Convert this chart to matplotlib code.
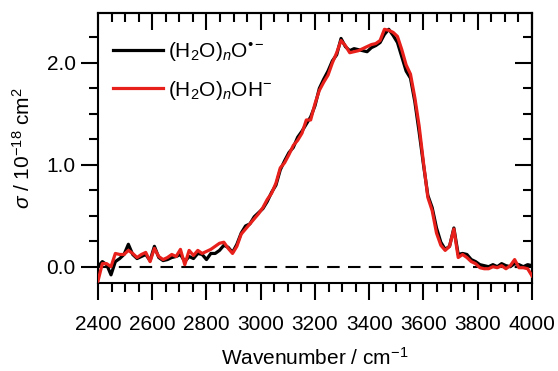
import numpy as np
import matplotlib
matplotlib.use("Agg")
import matplotlib.pyplot as plt
from matplotlib.ticker import MultipleLocator

plt.rcParams['font.family'] = ['Liberation Sans', 'DejaVu Sans']
plt.rcParams['mathtext.fontset'] = 'custom'
plt.rcParams['mathtext.rm'] = 'Liberation Sans'
plt.rcParams['mathtext.it'] = 'Liberation Sans:italic'
plt.rcParams['mathtext.bf'] = 'Liberation Sans:bold'

# wavenumber grid (cm-1), 16 cm-1 sampling
wavenumber = np.arange(2400, 4001, 16)

# (H2O)nO*- cross section, 10^-18 cm^2
sigma_o = [0.00, 0.05, 0.02, -0.08, 0.05, 0.08, 0.12, 0.22, 0.12, 0.08,
           0.10, 0.12, 0.06, 0.20, 0.09, 0.06, 0.07, 0.09, 0.10, 0.12,
           0.05, 0.10, 0.08, 0.13, 0.12, 0.07, 0.13, 0.13, 0.16, 0.21,
           0.19, 0.14, 0.22, 0.33, 0.40, 0.42, 0.49, 0.53, 0.57, 0.64,
           0.73, 0.80, 0.95, 1.04, 1.12, 1.17, 1.27, 1.33, 1.40, 1.47,
           1.58, 1.75, 1.84, 1.92, 2.02, 2.08, 2.24, 2.16, 2.12, 2.14,
           2.13, 2.12, 2.11, 2.15, 2.17, 2.20, 2.28, 2.33, 2.27, 2.20,
           2.06, 1.92, 1.85, 1.62, 1.32, 1.00, 0.70, 0.58, 0.38, 0.24,
           0.17, 0.20, 0.38, 0.12, 0.13, 0.12, 0.07, 0.05, 0.02, 0.01,
           0.00, 0.02, 0.00, 0.03, 0.01, 0.00, 0.03, 0.02, 0.00, 0.02,
           0.01]

# (H2O)nOH- cross section, 10^-18 cm^2
sigma_oh = [-0.14, 0.03, 0.03, 0.00, 0.13, 0.12, 0.12, 0.16, 0.13, 0.09,
            0.12, 0.14, 0.05, 0.18, 0.10, 0.07, 0.09, 0.12, 0.10, 0.17,
            0.02, 0.16, 0.11, 0.16, 0.13, 0.15, 0.17, 0.20, 0.23, 0.24,
            0.18, 0.13, 0.20, 0.32, 0.37, 0.42, 0.47, 0.52, 0.58, 0.66,
            0.72, 0.82, 0.97, 1.02, 1.10, 1.19, 1.24, 1.31, 1.44, 1.44,
            1.60, 1.73, 1.81, 1.88, 2.00, 2.10, 2.22, 2.17, 2.10, 2.11,
            2.12, 2.14, 2.16, 2.18, 2.19, 2.22, 2.33, 2.32, 2.30, 2.26,
            2.13, 1.98, 1.89, 1.66, 1.38, 1.02, 0.68, 0.55, 0.33, 0.21,
            0.16, 0.20, 0.37, 0.09, 0.12, 0.09, 0.05, 0.03, -0.01, -0.02,
            -0.02, 0.00, -0.01, 0.01, -0.02, 0.01, 0.07, -0.01, -0.01, -0.02,
            -0.09]

labels = ['(H$_2$O)$_n$O$^{\u2022\u2212}$', '(H$_2$O)$_n$OH$^{\u2212}$']
colors = ['black', '#e8201c']
xticks = [2400, 2600, 2800, 3000, 3200, 3400, 3600, 3800, 4000]
yticks = [0.0, 1.0, 2.0]

fig = plt.figure(figsize=(5.58, 3.71), dpi=100)
ax = fig.add_axes([0.1756, 0.2372, 0.9534 - 0.1756, 0.965 - 0.2372])

ax.axhline(0, color='black', lw=1.5, ls=(0, (6, 4)), zorder=1)
ax.plot(wavenumber, sigma_o, color=colors[0], lw=2.3, label=labels[0], zorder=2)
ax.plot(wavenumber, sigma_oh, color=colors[1], lw=2.3, label=labels[1], zorder=3)

ax.set_xlim(2400, 4000)
ax.set_ylim(-0.16, 2.49)
ax.set_xticks(xticks)
ax.set_yticks(yticks)
ax.set_yticklabels(['%.1f' % v for v in yticks])
ax.xaxis.set_minor_locator(MultipleLocator(50))
ax.yaxis.set_minor_locator(MultipleLocator(0.25))
ax.tick_params(which='both', direction='out', width=1.5, labelsize=15,
               top=False, right=False)
ax.tick_params(which='major', length=12)
ax.tick_params(which='minor', length=6.5)
ax.tick_params(axis='x', pad=11)
ax.tick_params(axis='y', pad=4)
for s in ax.spines.values():
    s.set_linewidth(1.5)

# top and right ticks point inward
top = ax.secondary_xaxis('top')
top.set_xticks(xticks)
top.xaxis.set_minor_locator(MultipleLocator(50))
top.tick_params(which='both', direction='in', width=1.5, labeltop=False)
top.tick_params(which='major', length=12)
top.tick_params(which='minor', length=6.5)
top.spines['top'].set_linewidth(1.5)

right = ax.secondary_yaxis('right')
right.set_yticks(yticks)
right.yaxis.set_minor_locator(MultipleLocator(0.25))
right.tick_params(which='both', direction='in', width=1.5, labelright=False)
right.tick_params(which='major', length=12)
right.tick_params(which='minor', length=6.5)
right.spines['right'].set_linewidth(1.5)

ax.set_xlabel(r'Wavenumber / cm$^{-1}$', fontsize=15, labelpad=9)
ax.set_ylabel(r'$\sigma$ / 10$^{-18}$ cm$^{2}$', fontsize=15, labelpad=9)

ax.legend(loc='upper left', bbox_to_anchor=(0.035, 0.90), frameon=False,
          fontsize=15, handlelength=2.4, handletextpad=0.25,
          labelspacing=0.75, borderpad=0, borderaxespad=0)

fig.savefig('out.png', dpi=100)
